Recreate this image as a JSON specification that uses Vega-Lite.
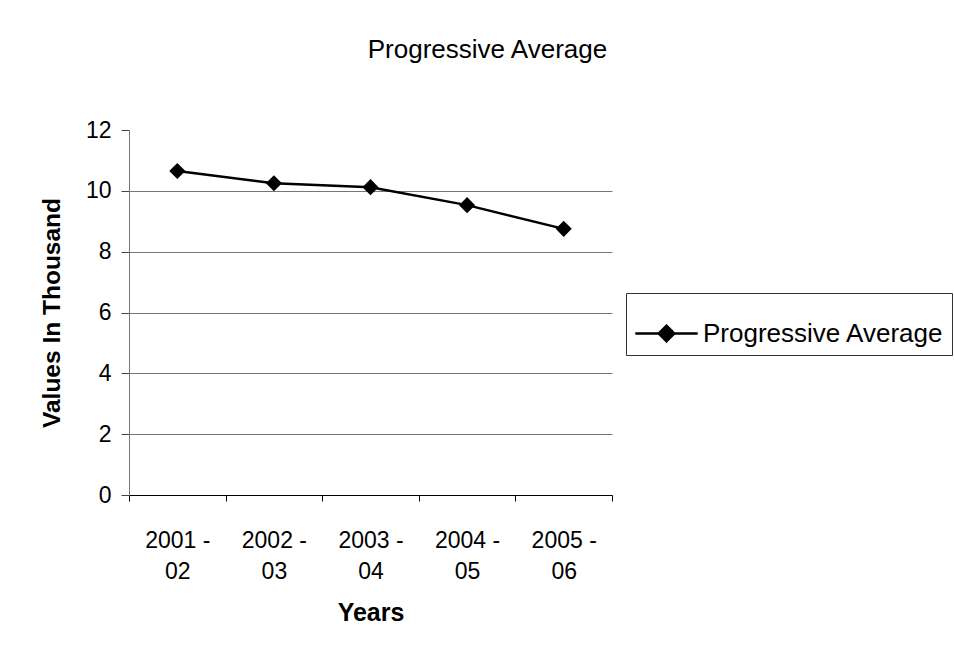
{
  "$schema": "https://vega.github.io/schema/vega-lite/v6.json",
  "width": 483,
  "height": 365,
  "autosize": {"type": "none"},
  "padding": {"left": 129, "top": 130, "right": 342, "bottom": 153},
  "background": "white",
  "title": {
    "text": "Progressive Average",
    "font": "Liberation Sans",
    "fontSize": 26,
    "fontWeight": "normal",
    "color": "black",
    "anchor": "middle",
    "frame": "group",
    "dx": 117,
    "offset": 56
  },
  "data": {
    "values": [
      {"year": "2001 - 02", "value": 10.65, "series": "Progressive Average"},
      {"year": "2002 - 03", "value": 10.25, "series": "Progressive Average"},
      {"year": "2003 - 04", "value": 10.12, "series": "Progressive Average"},
      {"year": "2004 - 05", "value": 9.53, "series": "Progressive Average"},
      {"year": "2005 - 06", "value": 8.75, "series": "Progressive Average"}
    ]
  },
  "mark": {
    "type": "line",
    "strokeWidth": 2.5,
    "point": {"filled": true, "shape": "diamond", "size": 260, "opacity": 1}
  },
  "encoding": {
    "x": {
      "field": "year",
      "type": "ordinal",
      "sort": null,
      "scale": {"paddingInner": 0, "paddingOuter": 0},
      "axis": {
        "title": "Years",
        "titleFont": "Liberation Sans",
        "titleFontSize": 25,
        "titleFontWeight": "bold",
        "titleColor": "black",
        "titlePadding": 17,
        "labelAngle": 0,
        "labelFont": "Liberation Sans",
        "labelFontSize": 23,
        "labelColor": "black",
        "labelLineHeight": 31,
        "labelBaseline": "top",
        "labelPadding": 28,
        "labelExpr": "[slice(datum.label, 0, 6), slice(datum.label, 7)]",
        "tickBand": "extent",
        "tickSize": 6,
        "tickColor": "black",
        "domainColor": "black",
        "domainWidth": 1.2,
        "grid": false
      }
    },
    "y": {
      "field": "value",
      "type": "quantitative",
      "scale": {"domain": [0, 12], "nice": false, "zero": true},
      "axis": {
        "title": "Values In Thousand",
        "titleFont": "Liberation Sans",
        "titleFontSize": 24.5,
        "titleFontWeight": "bold",
        "titleColor": "black",
        "titlePadding": 21,
        "values": [0, 2, 4, 6, 8, 10, 12],
        "labelFont": "Liberation Sans",
        "labelFontSize": 23,
        "labelColor": "black",
        "labelPadding": 10,
        "tickSize": 8,
        "tickColor": "#444",
        "domainColor": "#777",
        "grid": true,
        "gridWidth": 1,
        "gridColor": {"condition": {"test": "datum.value >= 12", "value": "transparent"}, "value": "#777"}
      }
    },
    "color": {
      "field": "series",
      "type": "nominal",
      "scale": {"range": ["black"]},
      "legend": {
        "title": null,
        "orient": "none",
        "legendX": 497,
        "legendY": 163,
        "strokeColor": "#333",
        "padding": 8,
        "labelFont": "Liberation Sans",
        "labelFontSize": 26,
        "labelColor": "black",
        "labelLimit": 0,
        "symbolType": "M-1,0H1M0,-0.25L0.25,0L0,0.25L-0.25,0Z",
        "symbolSize": 3900,
        "symbolStrokeWidth": 2.5,
        "symbolStrokeColor": "black",
        "symbolFillColor": "black",
        "labelOffset": 4
      }
    }
  },
  "config": {
    "view": {"stroke": null}
  }
}
